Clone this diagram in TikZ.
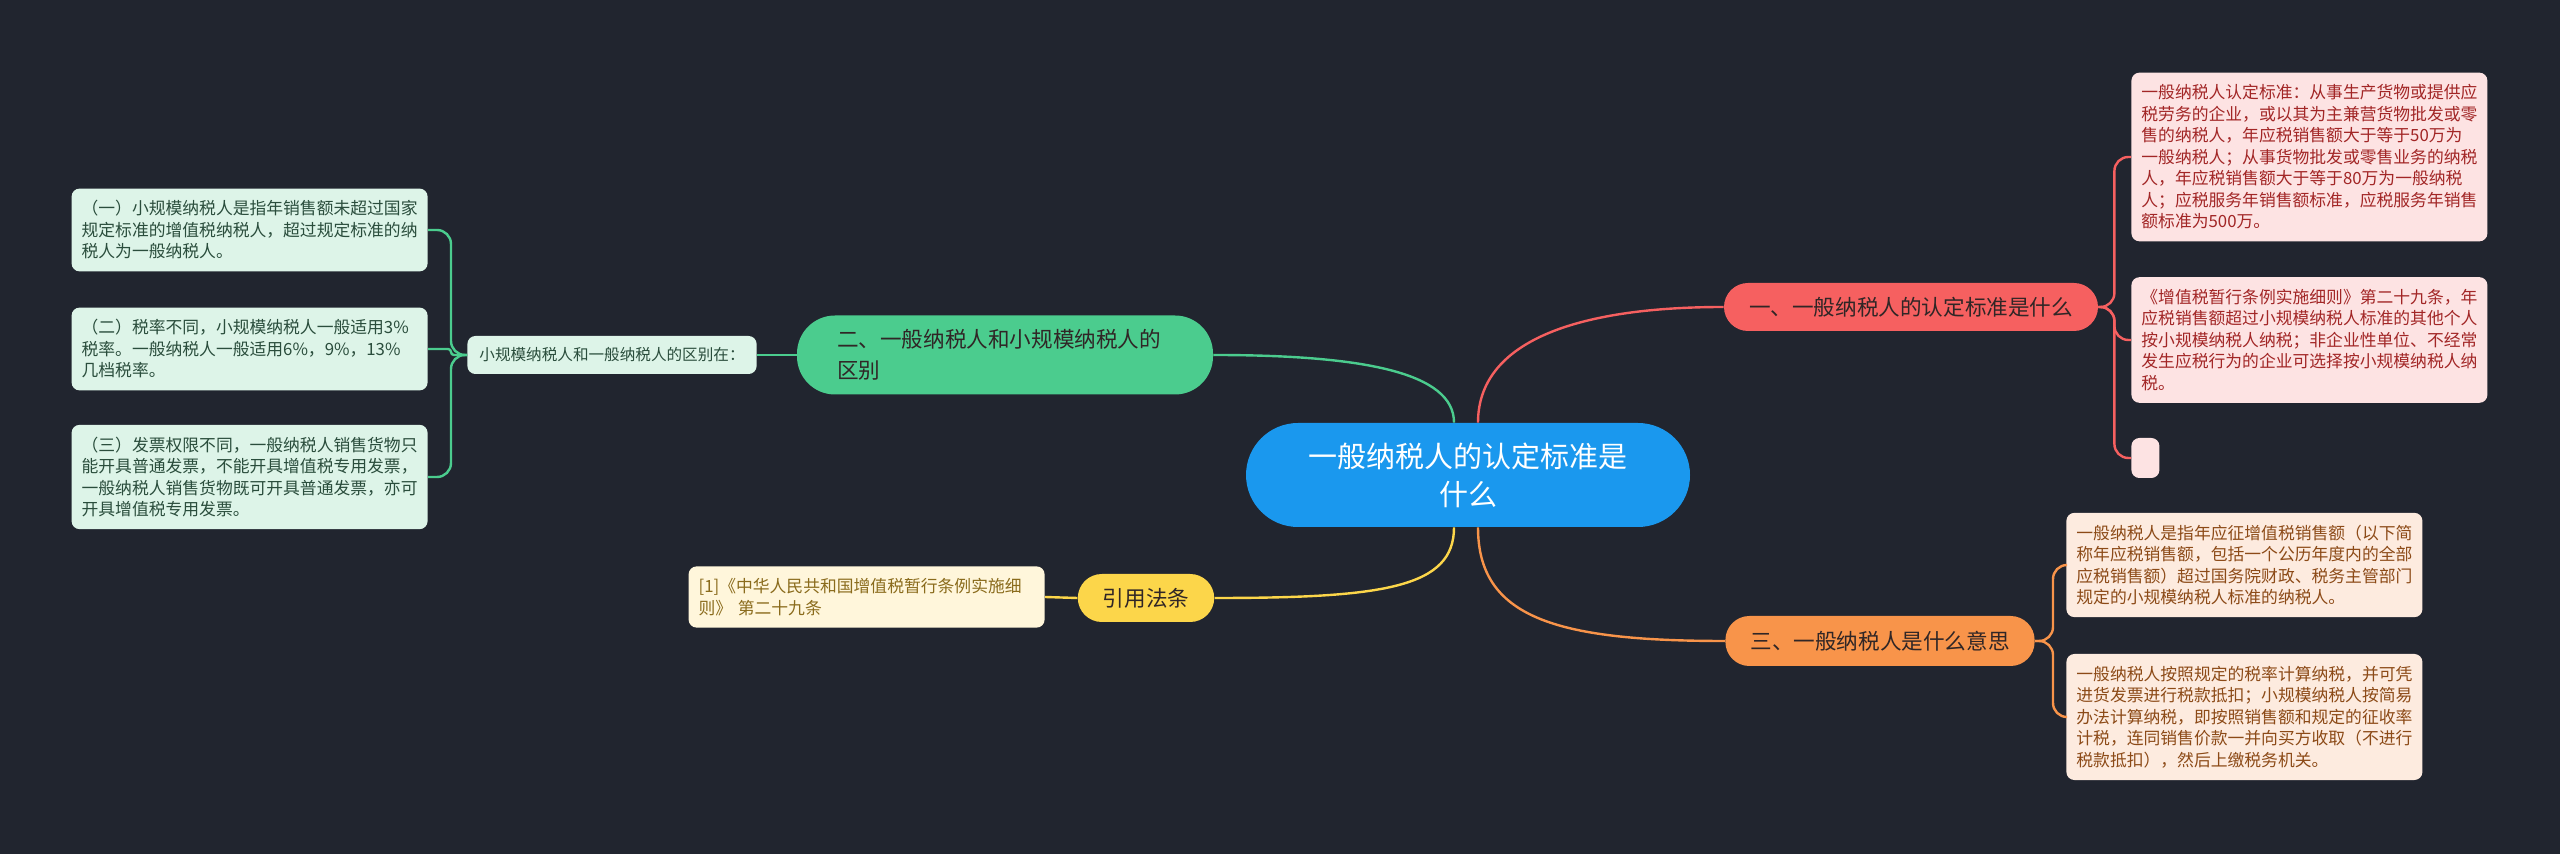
\documentclass[tikz,border=0pt]{standalone}
\usepackage{fontspec}
\setmainfont{Noto Sans CJK SC}
\usepackage{tikz}
\newcommand{\rootfont}{\fontsize{14.5}{19}\selectfont}
\newcommand{\topicfont}{\fontsize{10.8}{15.5}\selectfont}
\newcommand{\leaffont}{\fontsize{8.4}{10.75}\selectfont}
\newcommand{\midfont}{\fontsize{7.8}{10}\selectfont}
\definecolor{bgnavy}{HTML}{21252F}
\definecolor{rootblue}{HTML}{1A98EE}
\definecolor{topicink}{HTML}{302626}
\definecolor{topicred}{HTML}{F66060}
\definecolor{leafred}{HTML}{FDE3E3}
\definecolor{textred}{HTML}{A22626}
\definecolor{topicorange}{HTML}{F8944A}
\definecolor{leaforange}{HTML}{FDEBDF}
\definecolor{textorange}{HTML}{8C4A17}
\definecolor{topicgreen}{HTML}{4BCC8E}
\definecolor{leafgreen}{HTML}{DDF4E8}
\definecolor{textgreen}{HTML}{2A4D3C}
\definecolor{topicyellow}{HTML}{FCD64A}
\definecolor{leafyellow}{HTML}{FFF6DB}
\definecolor{textyellow}{HTML}{8A6B1C}

\begin{document}
\begin{tikzpicture}[x=0.5pt,y=-0.5pt,
  topic/.style={rounded corners=12pt,minimum height=24pt,inner xsep=12.5pt,font=\topicfont,text=topicink},
  leaf/.style={rounded corners=4pt,text width=168pt,inner xsep=5pt,inner ysep=6pt,font=\leaffont,align=left},
  link/.style={line width=1.2pt},
  bracket/.style={line width=1.2pt,rounded corners=7pt}]
\fill[bgnavy] (0,0) rectangle (2560,854);
\useasboundingbox (0,0) rectangle (2560,854);

\node[fill=rootblue,text=white,font=\rootfont,align=center,minimum width=222pt,minimum height=52pt,rounded corners=26pt] (root) at (1468,475) {一般纳税人的认定标准是\\什么};

\node[topic,fill=topicred] (std) at (1911,307) {一、一般纳税人的认定标准是什么};
\node[topic,fill=topicorange,minimum height=25pt] (mean) at (1880,641) {三、一般纳税人是什么意思};
\node[topic,fill=topicgreen,align=left,text width=168pt,minimum height=39.5pt,rounded corners=19pt,inner xsep=20pt] (diff) at (1005,355) {二、一般纳税人和小规模纳税人的\\区别};
\node[topic,fill=topicyellow] (law) at (1146,598) {引用法条};

\node[leaf,fill=leafred,text=textred,anchor=west] (std1) at (2131,157) {一般纳税人认定标准：从事生产货物或提供应\\税劳务的企业，或以其为主兼营货物批发或零\\售的纳税人，年应税销售额大于等于50万为\\一般纳税人；从事货物批发或零售业务的纳税\\人，年应税销售额大于等于80万为一般纳税\\人；应税服务年销售额标准，应税服务年销售\\额标准为500万。};
\node[leaf,fill=leafred,text=textred,anchor=west] (std2) at (2131,340) {《增值税暂行条例实施细则》第二十九条，年\\应税销售额超过小规模纳税人标准的其他个人\\按小规模纳税人纳税；非企业性单位、不经常\\发生应税行为的企业可选择按小规模纳税人纳\\税。};
\node[fill=leafred,rounded corners=4pt,minimum width=14pt,minimum height=20pt,inner sep=0pt,anchor=west] (std3) at (2131,458) {};

\node[leaf,fill=leaforange,text=textorange,anchor=west] (mean1) at (2066,565) {一般纳税人是指年应征增值税销售额（以下简\\称年应税销售额，包括一个公历年度内的全部\\应税销售额）超过国务院财政、税务主管部门\\规定的小规模纳税人标准的纳税人。};
\node[leaf,fill=leaforange,text=textorange,anchor=west] (mean2) at (2066,717) {一般纳税人按照规定的税率计算纳税，并可凭\\进货发票进行税款抵扣；小规模纳税人按简易\\办法计算纳税，即按照销售额和规定的征收率\\计税，连同销售价款一并向买方收取（不进行\\税款抵扣），然后上缴税务机关。};

\node[fill=leafgreen,text=textgreen,font=\midfont,rounded corners=4pt,inner xsep=6pt,minimum height=19pt] (diffsum) at (612,355) {小规模纳税人和一般纳税人的区别在：};
\node[leaf,fill=leafgreen,text=textgreen,anchor=east] (diff1) at (428,230) {（一）小规模纳税人是指年销售额未超过国家\\规定标准的增值税纳税人，超过规定标准的纳\\税人为一般纳税人。};
\node[leaf,fill=leafgreen,text=textgreen,anchor=east] (diff2) at (428,349) {（二）税率不同，小规模纳税人一般适用3\%\\税率。一般纳税人一般适用6\%，9\%，13\%\\几档税率。};
\node[leaf,fill=leafgreen,text=textgreen,anchor=east] (diff3) at (428,477) {（三）发票权限不同，一般纳税人销售货物只\\能开具普通发票，不能开具增值税专用发票，\\一般纳税人销售货物既可开具普通发票，亦可\\开具增值税专用发票。};

\node[leaf,fill=leafyellow,text=textyellow,anchor=east] (law1) at (1045,597) {[1]《中华人民共和国增值税暂行条例实施细\\则》 第二十九条};

\draw[link,topicred] ([xshift=5pt]root.north) .. controls +(0,-80) and +(-150,0) .. (std.west);
\draw[link,topicgreen] ([xshift=-7pt]root.north) .. controls +(0,-50) and +(150,0) .. (diff.east);
\draw[link,topicyellow] ([xshift=-7pt]root.south) .. controls +(0,60) and +(170,0) .. (law.east);
\draw[link,topicorange] ([xshift=5pt]root.south) .. controls +(0,90) and +(-170,0) .. (mean.west);

\foreach \n in {std1,std2,std3}
  \draw[bracket,topicred] (std.east) -- ++(16,0) |- (\n.west);
\foreach \n in {mean1,mean2}
  \draw[bracket,topicorange] (mean.east) -- ++(18,0) |- (\n.west);
\draw[link,topicgreen] (diff.west) -- (diffsum.east);
\foreach \n in {diff1,diff3}
  \draw[bracket,topicgreen] (diffsum.west) -- ++(-16,0) |- (\n.east);
\draw[bracket,topicgreen,rounded corners=1.5pt] (diffsum.west) -- ++(-16,0) |- (diff2.east);
\draw[link,topicyellow] (law.west) -- (law1.east);
\end{tikzpicture}
\end{document}
